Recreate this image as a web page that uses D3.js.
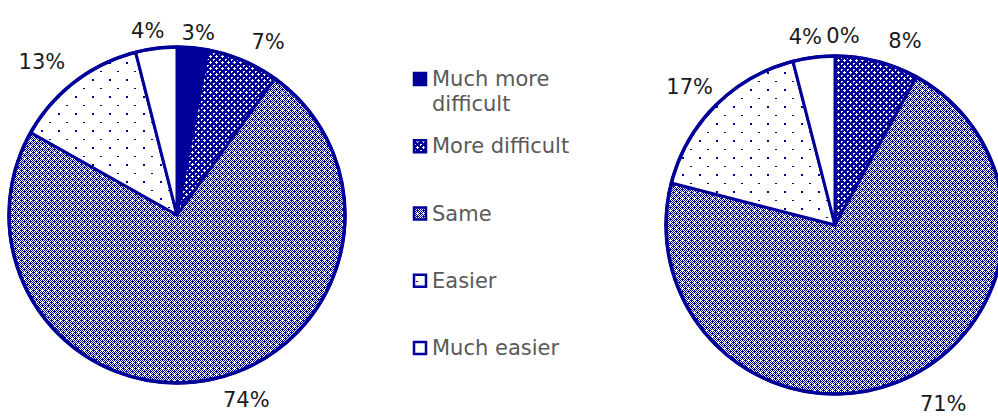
<!DOCTYPE html>
<html>
<head>
<meta charset="utf-8">
<script src="https://cdn.jsdelivr.net/npm/d3@7"></script>
<style>
html,body{margin:0;padding:0;background:#fff;overflow:hidden;}
svg{display:block;}
</style>
</head>
<body>
<svg id="chart" width="998" height="416"></svg>
<script>
// ---- data ----
const categories = ["Much more difficult", "More difficult", "Same", "Easier", "Much easier"];
const legendLines = [["Much more", "difficult"], ["More difficult"], ["Same"], ["Easier"], ["Much easier"]];
const pie1Values = [3, 7, 74, 13, 4];
const pie2Values = [0, 8, 71, 17, 4];
const pie1Labels = ["3%", "7%", "74%", "13%", "4%"];
const pie2Labels = ["0%", "8%", "71%", "17%", "4%"];

// ---- layout / style (not data) ----
const BLUE = "#000099";
const fills = ["solid", "url(#pMoreDiff)", "url(#pSame)", "url(#pEasier)", "#ffffff"];
const pies = [
  {cx: 177, cy: 215, r: 168, values: pie1Values, labels: pie1Labels,
   nudge: [[3, 13], [14, 7], [27, -6], [-16, 3], [-5, 10]]},
  {cx: 835, cy: 225, r: 169, values: pie2Values, labels: pie2Labels,
   nudge: [[8, 8], [21, 7], [30, -2], [-6, 1], [-5, 7]]}
];

const svg = d3.select("#chart");
const defs = svg.append("defs");

function pixelPattern(id, size, bg, fg, isOn) {
  const p = defs.append("pattern").attr("id", id).attr("patternUnits", "userSpaceOnUse")
    .attr("width", size).attr("height", size);
  p.append("rect").attr("width", size).attr("height", size).attr("fill", bg);
  for (let x = 0; x < size; x++) for (let y = 0; y < size; y++) {
    if (isOn(x, y)) p.append("rect").attr("x", x).attr("y", y).attr("width", 1).attr("height", 1)
      .attr("fill", fg).attr("shape-rendering", "crispEdges");
  }
}
// More difficult: dense blue with small white crosses
pixelPattern("pMoreDiff", 6, BLUE, "#fff", (x, y) =>
  (x === 0 && y === 0) || (x === 3 && y === 3) || (x === 3 && y === 2) || (x === 3 && y === 4) ||
  (x === 2 && y === 3) || (x === 4 && y === 3) || (x === 1 && y === 0) || (x === 0 && y === 1));
// Same: blue checker with white diamonds
pixelPattern("pSame", 6, "#fff", BLUE, (x, y) =>
  ((x + y) % 2 === 0 && !(x === 3 && y === 3)) || (x === 0 && y === 3) || (x === 3 && y === 0));
// Easier: sparse dots
(function(){
  const p = defs.append("pattern").attr("id", "pEasier").attr("patternUnits", "userSpaceOnUse")
    .attr("width", 17).attr("height", 17);
  p.append("rect").attr("width", 17).attr("height", 17).attr("fill", "#fff");
  p.append("rect").attr("x", 0).attr("y", 0).attr("width", 2).attr("height", 2).attr("fill", BLUE);
  p.append("rect").attr("x", 8).attr("y", 9).attr("width", 2).attr("height", 1).attr("fill", BLUE);
})();

const fillOf = i => fills[i] === "solid" ? BLUE : fills[i];

pies.forEach(pc => {
  const pie = d3.pie().sort(null).value(d => d)(pc.values);
  const arc = d3.arc().innerRadius(0).outerRadius(pc.r);
  const g = svg.append("g").attr("transform", `translate(${pc.cx},${pc.cy})`);
  g.selectAll("path.slice").data(pie).join("path")
    .attr("class", "slice")
    .attr("d", arc)
    .attr("fill", (d, i) => fillOf(i))
    .attr("stroke", BLUE)
    .attr("stroke-width", 3)
    .attr("stroke-linejoin", "round");
  g.append("circle").attr("r", pc.r).attr("fill", "none").attr("stroke", BLUE).attr("stroke-width", 3.5);

  const RL = pc.r + 28;
  g.selectAll("text.lbl").data(pie).join("text")
    .attr("class", "lbl")
    .attr("x", (d, i) => RL * Math.sin((d.startAngle + d.endAngle) / 2) + pc.nudge[i][0])
    .attr("y", (d, i) => -RL * Math.cos((d.startAngle + d.endAngle) / 2) + pc.nudge[i][1])
    .attr("text-anchor", "middle")
    .attr("dominant-baseline", "central")
    .attr("font-family", "DejaVu Sans, Verdana, sans-serif")
    .attr("font-size", 21)
    .attr("fill", "#1a1a1a")
    .text((d, i) => pc.labels[i]);
});

// legend
const legendY = d3.scaleLinear().domain([0, categories.length - 1]).range([86, 355]);
const lg = svg.append("g");
categories.forEach((c, i) => {
  const base = legendY(i);
  lg.append("rect")
    .attr("x", 414).attr("y", base - 13).attr("width", 12).attr("height", 12)
    .attr("fill", fillOf(i)).attr("stroke", BLUE).attr("stroke-width", 2.5);
  const t = lg.append("text")
    .attr("x", 432).attr("y", base)
    .attr("font-family", "DejaVu Sans, Verdana, sans-serif")
    .attr("font-size", 21)
    .attr("fill", "#595959");
  legendLines[i].forEach((ln, j) => {
    t.append("tspan").attr("x", 432).attr("dy", j === 0 ? 0 : 25).text(ln);
  });
});
</script>
</body>
</html>
